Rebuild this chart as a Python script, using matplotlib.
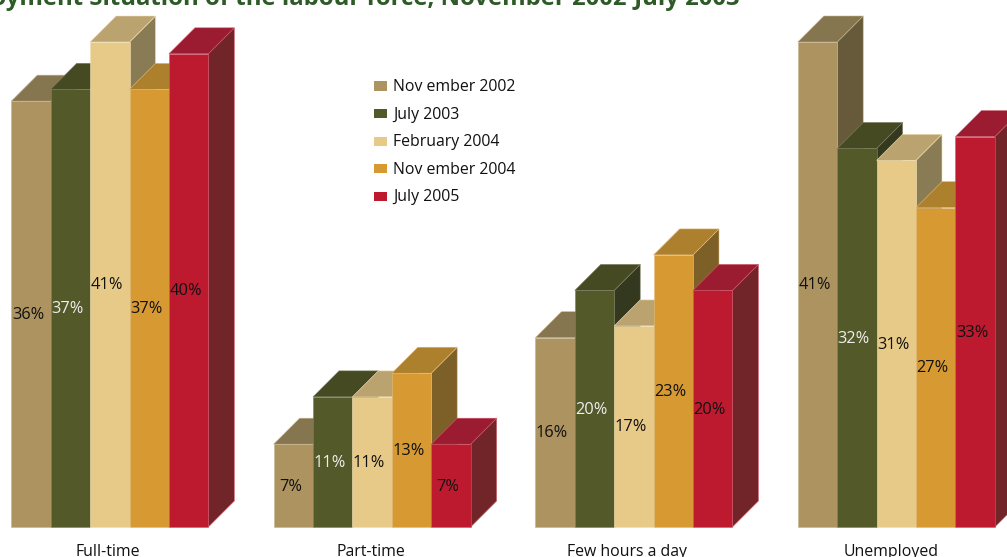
import matplotlib
matplotlib.use('Agg')
import matplotlib.pyplot as plt
from matplotlib.patches import Polygon, Rectangle

categories = ['Full-time', 'Part-time', 'Few hours a day', 'Unemployed']
periods = ['Nov ember 2002', 'July 2003', 'February 2004', 'Nov ember 2004', 'July 2005']
values = [
    [36, 7, 16, 41],
    [37, 11, 20, 32],
    [41, 11, 17, 31],
    [37, 13, 23, 27],
    [40, 7, 20, 33],
]
front = ['#ac9360', '#54592a', '#e7ca87', '#d79a33', '#bd1a30']
top = ['#86764f', '#464a23', '#bba36f', '#ad802e', '#9b1b30']
side = ['#665a3a', '#34381f', '#897b54', '#7d5f28', '#722528']
edge = ['#c4b48a', '#7d8060', '#f0dfb5', '#e3bb78', '#cf5a6a']
label_colors = ['#111111', '#eeeeee', '#111111', '#111111', '#111111']
group_left = [11.3, 273.6, 535.4, 797.8]
category_x = [108, 371, 627, 891]

plt.rcParams['font.family'] = ['Open Sans', 'DejaVu Sans']

W, H = 1007, 557
px_per = 485 / 41
base_y = 527
bar_w = 39.4
depth_x = 26
depth_y = 26 / px_per

fig = plt.figure(figsize=(W / 100, H / 100), dpi=100)
ax = fig.add_axes([0, 0, 1, 1])
ax.set_xlim(0, W)
ax.set_ylim(-(H - base_y) / px_per, base_y / px_per)
ax.axis('off')

for g, left in enumerate(group_left):
    for s in range(len(periods)):
        v = values[s][g]
        x0 = left + s * bar_w
        x1 = x0 + bar_w
        # side face, top face, front, left to right so neighbours overlap
        ax.add_patch(Polygon([(x1, 0), (x1 + depth_x, depth_y), (x1 + depth_x, v + depth_y), (x1, v)],
                             fc=side[s], ec=edge[s], lw=0.4, zorder=2 + s))
        ax.add_patch(Polygon([(x0, v), (x0 + depth_x, v + depth_y), (x1 + depth_x, v + depth_y), (x1, v)],
                             fc=top[s], ec=edge[s], lw=0.4, zorder=2 + s))
        ax.add_patch(Rectangle((x0, 0), bar_w, v, fc=front[s], ec=edge[s], lw=0.4, zorder=2 + s))
        ax.text(x0 + bar_w / 2 - 3, v / 2 - 1 / px_per, f'{v}%', ha='center', va='center', fontsize=11.8,
                color=label_colors[s], zorder=10)
    ax.text(category_x[g], -25 / px_per, categories[g], ha='center', va='center',
            fontsize=11.4, color='#111111', zorder=10)

for s, name in enumerate(periods):
    y = (base_y - (86 + s * 27.6)) / px_per
    ax.add_patch(Rectangle((374, y - 4.5 / px_per), 13, 9 / px_per, fc=front[s], ec='none'))
    ax.text(393, y - 1 / px_per, name, ha='left', va='center', fontsize=11.4, color='#111111')

ax.text(740, (base_y - 5) / px_per, 'Employment Situation of the labour force, November 2002-July 2003',
        ha='right', va='baseline', fontsize=17.2, fontweight='bold', color='#2d5a27', clip_on=False)

fig.savefig('out.png', dpi=100)
